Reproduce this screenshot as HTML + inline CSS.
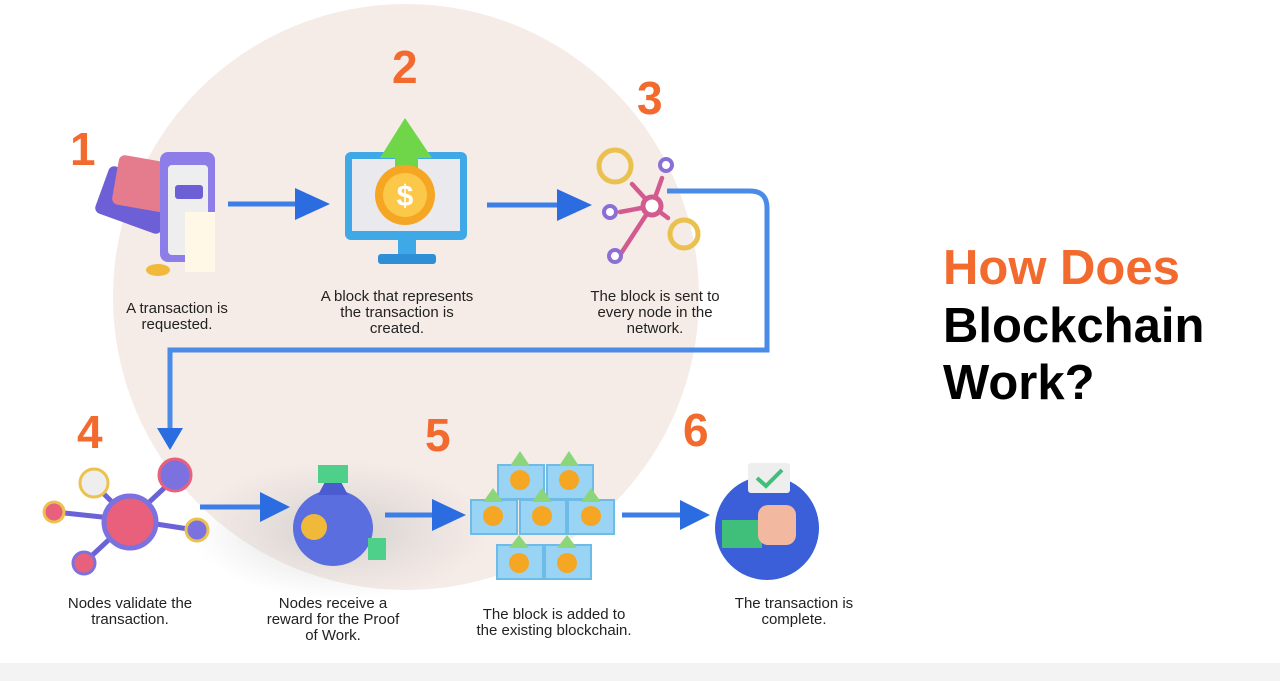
<!DOCTYPE html>
<html><head><meta charset="utf-8"><style>
html,body{margin:0;padding:0;background:#fff}
body{width:1280px;height:681px;overflow:hidden;position:relative;font-family:"Liberation Sans",sans-serif}
.cap{position:absolute;font-size:15px;line-height:16px;color:#222;text-align:center;width:200px}
.num{position:absolute;font-size:46px;font-weight:bold;color:#f26a2e}
.t{position:absolute;left:943px;font-size:49px;font-weight:bold;line-height:56px}
</style></head><body>
<svg width="1280" height="681" style="position:absolute;left:0;top:0">
<defs><radialGradient id="sh" cx="0.5" cy="0.5" r="0.5"><stop offset="0" stop-color="#bbb" stop-opacity=".6"/><stop offset="1" stop-color="#ccc" stop-opacity="0"/></radialGradient></defs>
<circle cx="406" cy="297" r="293" fill="#f5ebe7"/>
<ellipse cx="340" cy="530" rx="150" ry="70" fill="url(#sh)"/>
<rect x="0" y="663" width="1280" height="18" fill="#f3f3f3"/>
<!-- connector -->
<path d="M667 191 H750 Q767 191 767 208 V350 H170 V430" fill="none" stroke="#4a8be8" stroke-width="5"/>
<polygon points="157,428 183,428 170,450" fill="#2b6de0"/>
<!-- arrows -->
<g stroke="#3d7ee6" stroke-width="5">
<line x1="228" y1="204" x2="300" y2="204"/><line x1="487" y1="205" x2="560" y2="205"/>
<line x1="200" y1="507" x2="262" y2="507"/><line x1="385" y1="515" x2="440" y2="515"/><line x1="622" y1="515" x2="685" y2="515"/>
</g>
<g fill="#2b6de0">
<polygon points="295,188 330,204 295,220"/><polygon points="557,189 592,205 557,221"/>
<polygon points="260,492 290,507 260,522"/><polygon points="432,499 466,515 432,531"/><polygon points="680,500 710,515 680,530"/>
</g>
<!-- icon1 -->
<rect x="100" y="175" width="70" height="50" rx="6" fill="#6d5fd6" transform="rotate(20 135 200)"/>
<rect x="115" y="160" width="70" height="50" rx="6" fill="#e57c8e" transform="rotate(10 150 185)"/>
<rect x="160" y="152" width="55" height="110" rx="8" fill="#8c7de8"/>
<rect x="168" y="165" width="40" height="90" rx="4" fill="#eee"/>
<rect x="175" y="185" width="28" height="14" rx="3" fill="#6d5fd6"/>
<rect x="185" y="212" width="30" height="60" fill="#fff8e6"/>
<ellipse cx="158" cy="270" rx="12" ry="6" fill="#f0b93a"/>
<!-- icon2 monitor -->
<rect x="345" y="152" width="122" height="88" rx="6" fill="#3fa9e8"/>
<rect x="352" y="159" width="108" height="72" fill="#e9e9ee"/>
<rect x="398" y="240" width="18" height="14" fill="#3fa9e8"/><rect x="378" y="254" width="58" height="10" rx="3" fill="#2f8fd6"/>
<polygon points="380,158 405,118 432,158 418,158 418,175 395,175 395,158" fill="#6fd64a"/>
<circle cx="405" cy="195" r="30" fill="#f5a623"/><circle cx="405" cy="195" r="22" fill="#fcc84a"/>
<text x="405" y="206" font-size="30" font-weight="bold" fill="#fff" text-anchor="middle" font-family="Liberation Sans">$</text>
<!-- icon3 -->
<g stroke="#d35a8f" stroke-width="4.5" stroke-linecap="round"><line x1="652" y1="206" x2="662" y2="178"/><line x1="652" y1="206" x2="632" y2="184"/><line x1="652" y1="206" x2="620" y2="212"/><line x1="652" y1="206" x2="620" y2="255"/><line x1="652" y1="206" x2="668" y2="218"/></g>
<circle cx="652" cy="206" r="9" fill="#fff" stroke="#d35a8f" stroke-width="5"/>
<circle cx="615" cy="166" r="16" fill="none" stroke="#eac04e" stroke-width="5"/>
<circle cx="684" cy="234" r="14" fill="none" stroke="#eac04e" stroke-width="5"/>
<g fill="#fff" stroke="#8b6fd6" stroke-width="4"><circle cx="666" cy="165" r="6"/><circle cx="610" cy="212" r="6"/><circle cx="615" cy="256" r="6"/></g>
<!-- icon4 -->
<g stroke="#6a62d6" stroke-width="5"><line x1="130" y1="520" x2="175" y2="478"/><line x1="130" y1="520" x2="95" y2="485"/><line x1="130" y1="520" x2="55" y2="512"/><line x1="130" y1="520" x2="195" y2="530"/><line x1="130" y1="520" x2="85" y2="562"/></g>
<circle cx="130" cy="522" r="26" fill="#e8607c" stroke="#7b72e0" stroke-width="5"/>
<circle cx="175" cy="475" r="16" fill="#7b72e0" stroke="#e8607c" stroke-width="3"/>
<circle cx="94" cy="483" r="14" fill="#eee" stroke="#ecc14e" stroke-width="3"/>
<circle cx="54" cy="512" r="10" fill="#e8607c" stroke="#ecc14e" stroke-width="3"/>
<circle cx="197" cy="530" r="11" fill="#7b72e0" stroke="#ecc14e" stroke-width="3"/>
<circle cx="84" cy="563" r="11" fill="#e8607c" stroke="#7b72e0" stroke-width="3"/>
<!-- icon5 bag -->
<ellipse cx="333" cy="528" rx="40" ry="38" fill="#5b6ee0"/>
<polygon points="318,495 348,495 340,480 326,480" fill="#4a5cd0"/>
<rect x="318" y="465" width="30" height="18" fill="#4fd08a"/>
<circle cx="314" cy="527" r="13" fill="#f0b93a"/>
<rect x="368" y="538" width="18" height="22" fill="#4fd08a"/>
<!-- icon 5b monitors -->
<g fill="#9ad4f5" stroke="#6fbbe8" stroke-width="2">
<rect x="498" y="465" width="46" height="34"/><rect x="547" y="465" width="46" height="34"/>
<rect x="471" y="500" width="46" height="34"/><rect x="520" y="500" width="46" height="34"/><rect x="568" y="500" width="46" height="34"/>
<rect x="497" y="545" width="46" height="34"/><rect x="545" y="545" width="46" height="34"/>
</g>
<g fill="#f5a623"><circle cx="520" cy="480" r="10"/><circle cx="569" cy="480" r="10"/><circle cx="493" cy="516" r="10"/><circle cx="542" cy="516" r="10"/><circle cx="591" cy="516" r="10"/><circle cx="519" cy="563" r="10"/><circle cx="567" cy="563" r="10"/></g>
<g fill="#8bd67a"><polygon points="510,466 520,451 530,466"/><polygon points="559,466 569,451 579,466"/><polygon points="483,502 493,488 503,502"/><polygon points="532,502 542,488 552,502"/><polygon points="581,502 591,488 601,502"/><polygon points="509,548 519,535 529,548"/><polygon points="557,548 567,535 577,548"/></g>
<!-- icon6 -->
<circle cx="767" cy="528" r="52" fill="#3a5fd8"/>
<rect x="722" y="520" width="40" height="28" fill="#3fbf7a"/>
<rect x="758" y="505" width="38" height="40" rx="10" fill="#f2b9a0"/>
<rect x="748" y="463" width="42" height="30" rx="3" fill="#eee"/>
<polyline points="757,478 766,486 782,470" fill="none" stroke="#3fbf7a" stroke-width="4"/>
</svg>
<div class="num" style="left:70px;top:122px">1</div>
<div class="num" style="left:392px;top:40px">2</div>
<div class="num" style="left:637px;top:71px">3</div>
<div class="num" style="left:77px;top:405px">4</div>
<div class="num" style="left:425px;top:408px">5</div>
<div class="num" style="left:683px;top:403px">6</div>
<div class="cap" style="left:77px;top:301px">A transaction is<br>requested.</div>
<div class="cap" style="left:297px;top:289px">A block that represents<br>the transaction is<br>created.</div>
<div class="cap" style="left:555px;top:289px">The block is sent to<br>every node in the<br>network.</div>
<div class="cap" style="left:30px;top:596px">Nodes validate the<br>transaction.</div>
<div class="cap" style="left:233px;top:596px">Nodes receive a<br>reward for the Proof<br>of Work.</div>
<div class="cap" style="left:454px;top:607px">The block is added to<br>the existing blockchain.</div>
<div class="cap" style="left:694px;top:596px">The transaction is<br>complete.</div>
<div class="t" style="top:240px;color:#f26a2e">How Does</div>
<div class="t" style="top:298px;color:#000">Blockchain</div>
<div class="t" style="top:355px;color:#000">Work?</div>
</body></html>
